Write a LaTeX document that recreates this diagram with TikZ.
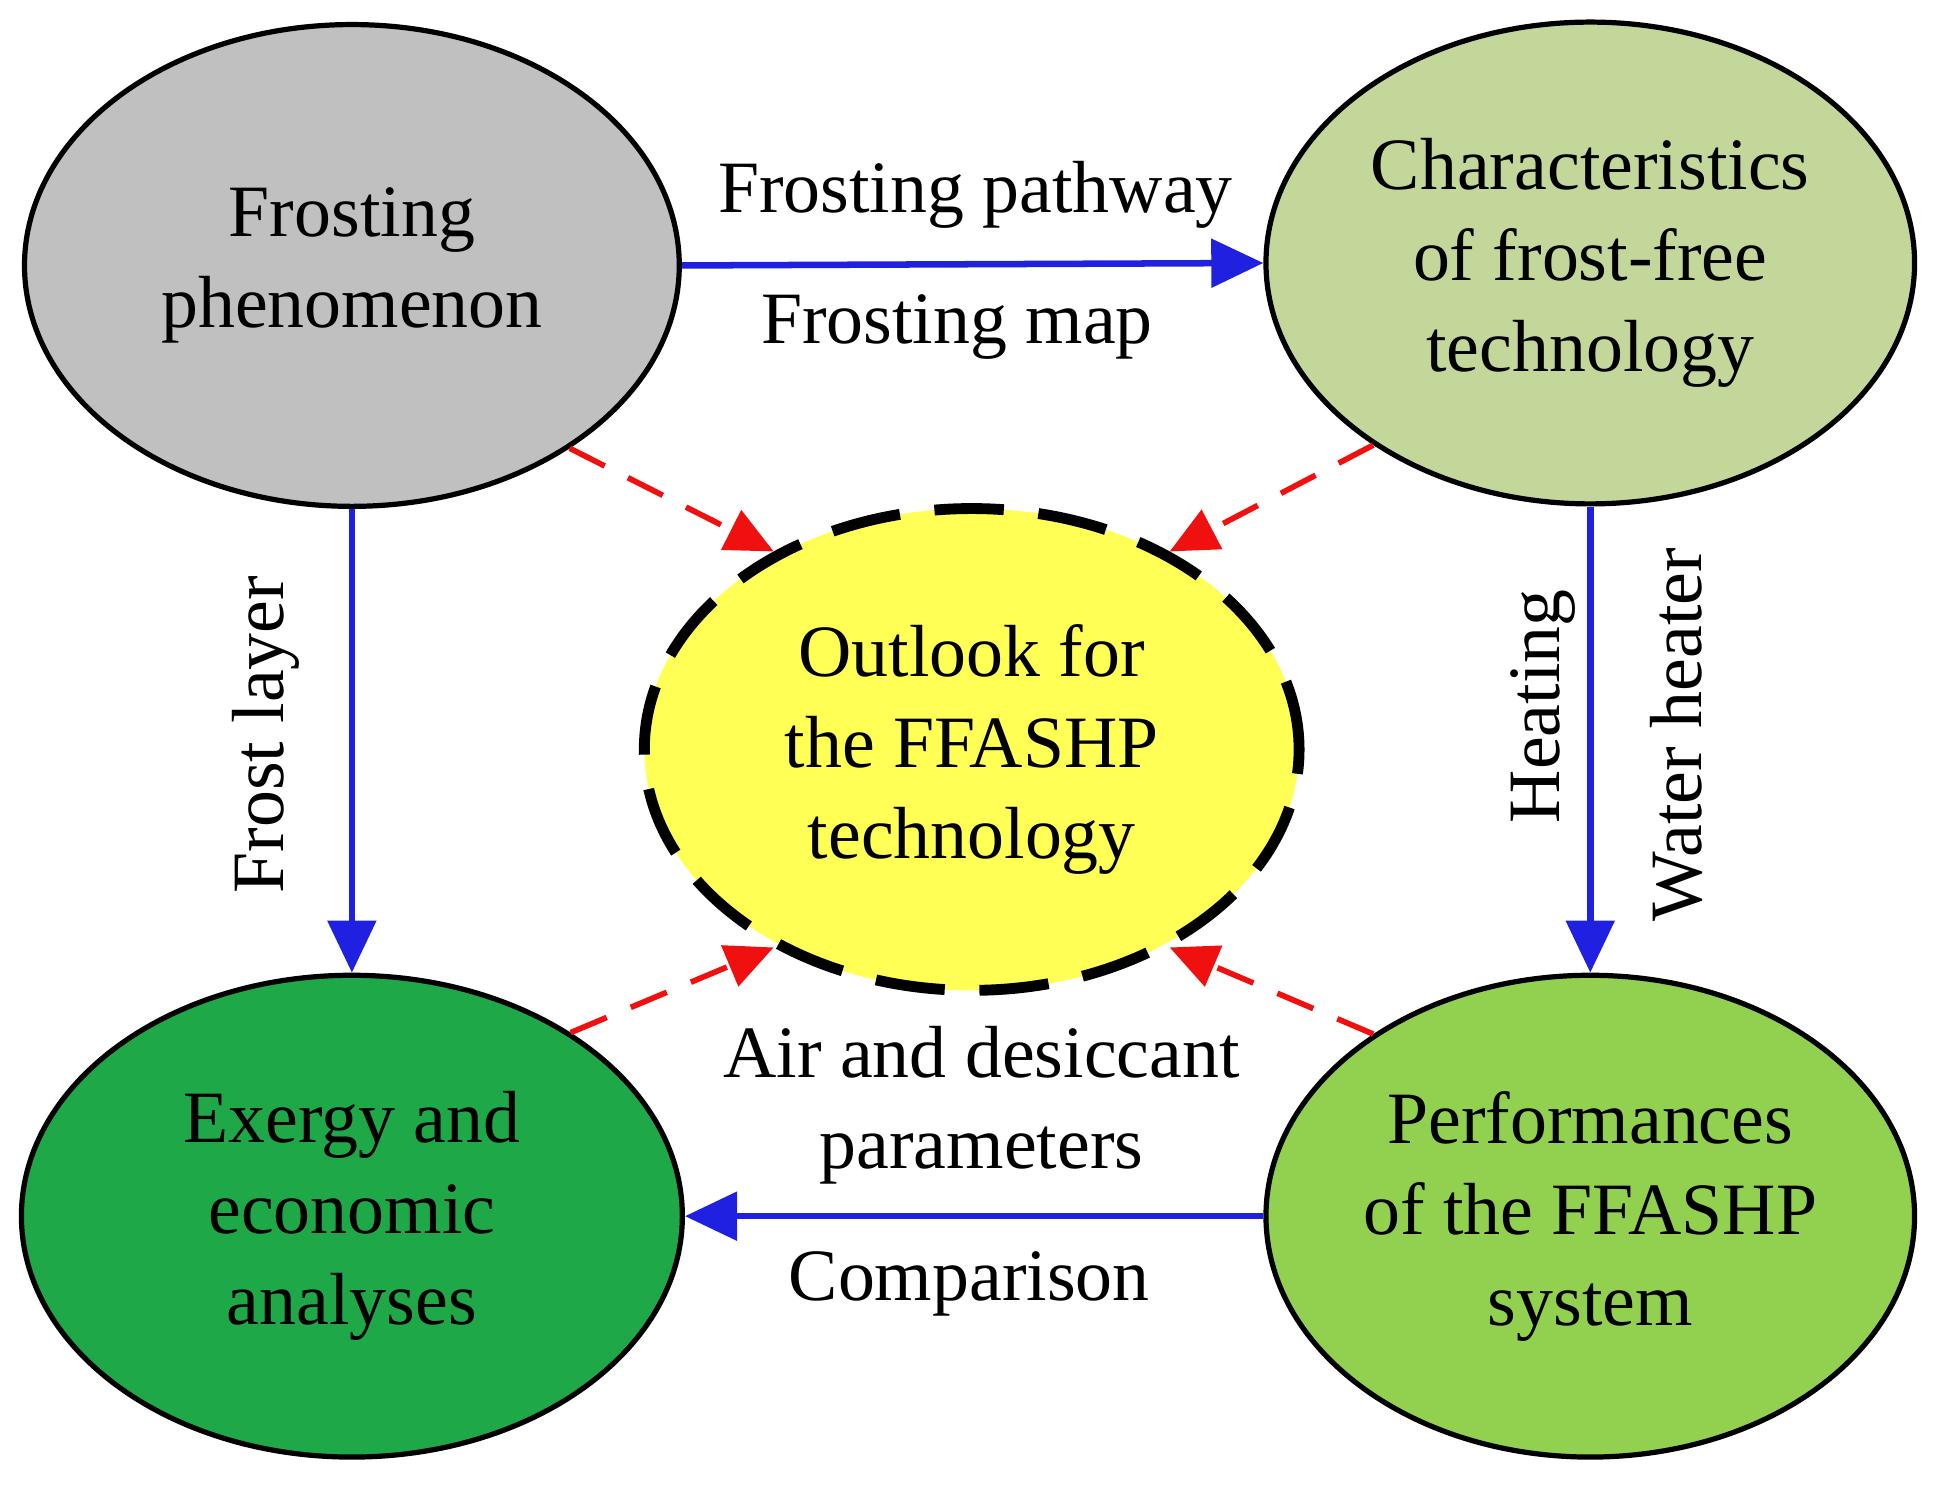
\documentclass[tikz,border=0pt]{standalone}
\usepackage{fontspec}
\setmainfont{Liberation Serif}
\usetikzlibrary{shapes.geometric,arrows.meta}
\definecolor{cgray}{HTML}{C0C0C0}
\definecolor{cltg}{HTML}{C4D79B}
\definecolor{cdkg}{HTML}{1EA848}
\definecolor{cmdg}{HTML}{92D050}
\definecolor{cyel}{HTML}{FFFF55}
\definecolor{cblue}{HTML}{2020E0}
\definecolor{cred}{HTML}{F01010}
\begin{document}
\begin{tikzpicture}[x=0.01cm,y=-0.01cm,
  ell/.style={ellipse,draw=black,line width=1.2pt,minimum width=5.3cm,minimum height=3.9cm,align=center,font=\fontsize{17}{21}\selectfont,inner sep=0pt},
  blu/.style={draw=cblue,line width=1.5pt,-{Triangle[length=12pt,width=11pt]}},
  red/.style={draw=cred,line width=1.3pt,dash pattern=on 9pt off 6pt,-{Triangle[length=11pt,width=10pt]}},
  lab/.style={font=\fontsize{17}{21}\selectfont,align=center,inner sep=1pt}]
\useasboundingbox (0,0) rectangle (1568,1203);
\node[ell,fill=cgray] (tl) at (285,215) {Frosting\\phenomenon};
\node[ell,fill=cltg,minimum width=5.25cm] (tr) at (1288,213) {Characteristics\\of frost-free\\technology};
\node[ell,fill=cdkg,minimum width=5.35cm] (bl) at (285,985) {Exergy and\\economic\\analyses};
\node[ell,fill=cmdg,minimum width=5.25cm] (br) at (1288,985) {Performances\\of the FFASHP\\system};
\node[ell,fill=cyel,dash pattern=on 16pt off 8pt,line width=2.5pt] (c) at (787,607) {Outlook for\\the FFASHP\\technology};
\draw[blu] (tl.east) -- (tr.west);
\draw[blu] (tl.south) -- (bl.north);
\draw[blu] (tr.south) -- (br.north);
\draw[blu] (br.west) -- (bl.east);
\draw[red] (tl.-40) -- (c.135);
\draw[red] (tr.-140) -- (c.45);
\draw[red] (bl.40) -- (c.-135);
\draw[red] (br.140) -- (c.-45);
\node[lab] (l1) at (790,158) {Frosting pathway};
\node[lab] (l2) at (775,265) {Frosting map};
\node[lab,rotate=90] (l3) at (215,595) {Frost layer};
\node[lab,rotate=90] (l4) at (1250,572) {Heating};
\node[lab,rotate=90] (l5) at (1358,595) {Water heater};
\node[lab] (l6) at (795,895) {Air and desiccant\\parameters};
\node[lab] (l7) at (785,1040) {Comparison};
\end{tikzpicture}
\end{document}
